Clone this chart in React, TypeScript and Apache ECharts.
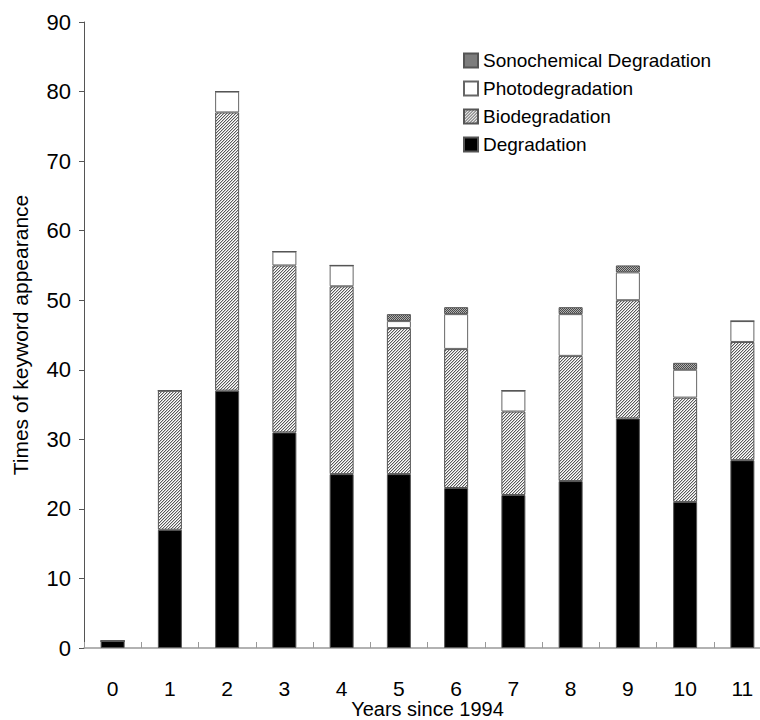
import React, { useEffect, useRef } from "react";
import * as echarts from "echarts";

const categories = ["0", "1", "2", "3", "4", "5", "6", "7", "8", "9", "10", "11"];
const degradation = [1, 17, 37, 31, 25, 25, 23, 22, 24, 33, 21, 27];
const biodegradation = [0, 20, 40, 24, 27, 21, 20, 12, 18, 17, 15, 17];
const photodegradation = [0, 0, 3, 2, 3, 1, 5, 3, 6, 4, 4, 3];
const sonochemical = [0, 0, 0, 0, 0, 1, 1, 0, 1, 1, 1, 0];
const yTicks = { min: 0, max: 90, interval: 10 };

function makeTile(draw: (ctx: CanvasRenderingContext2D) => void, size: number) {
  const c = document.createElement("canvas");
  c.width = size;
  c.height = size;
  const ctx = c.getContext("2d")!;
  ctx.fillStyle = "#ffffff";
  ctx.fillRect(0, 0, size, size);
  draw(ctx);
  return c;
}

export default function App() {
  const ref = useRef<HTMLDivElement>(null);
  useEffect(() => {
    if (!ref.current) return;
    const chart = echarts.init(ref.current, undefined, { renderer: "svg" });

    const bioTile = makeTile((ctx) => {
      for (let x = 0; x < 3; x++)
        for (let y = 0; y < 3; y++) {
          const d = (x + y) % 3;
          if (d === 0) {
            ctx.fillStyle = "#5a5a5a";
            ctx.fillRect(x, y, 1, 1);
          } else if (d === 1) {
            ctx.fillStyle = "#c8c8c8";
            ctx.fillRect(x, y, 1, 1);
          }
        }
    }, 3);
    const sonoTile = makeTile((ctx) => {
      for (let x = 0; x < 2; x++)
        for (let y = 0; y < 2; y++) {
          ctx.fillStyle = (x + y) % 2 === 0 ? "#4a4a4a" : "#b0b0b0";
          ctx.fillRect(x, y, 1, 1);
        }
    }, 2);

    const bioFill: any = { image: bioTile, repeat: "repeat", imageWidth: 3, imageHeight: 3 };
    const sonoFill: any = { image: sonoTile, repeat: "repeat", imageWidth: 2, imageHeight: 2 };

    const font = "Arial, 'Liberation Sans', sans-serif";
    const barW = 24;

    chart.setOption({
      animation: false,
      textStyle: { fontFamily: font },
      grid: {
        left: 84,
        right: -11,
        top: 22,
        bottom: 72,
        containLabel: false,
        outerBoundsMode: "none",
      } as any,
      legend: {
        orient: "vertical",
        left: 458,
        top: 46,
        itemWidth: 14,
        itemHeight: 14,
        itemGap: 9,
        icon: "rect",
        textStyle: { fontSize: 19, color: "#000", fontFamily: font },
        data: ["Sonochemical Degradation", "Photodegradation", "Biodegradation", "Degradation"],
      },
      xAxis: {
        type: "category",
        data: categories,
        name: "Years since 1994",
        nameLocation: "middle",
        nameGap: 51,
        nameMoveOverlap: false,
        nameTextStyle: { fontSize: 20, color: "#000", fontFamily: font },
        axisLine: { show: true, lineStyle: { color: "#999", width: 1.5 } },
        axisTick: { show: true, inside: true, length: 6, lineStyle: { color: "#999" } },
        axisLabel: { fontSize: 21, color: "#000", margin: 30, fontFamily: font },
      } as any,
      yAxis: {
        type: "value",
        min: yTicks.min,
        max: yTicks.max,
        interval: yTicks.interval,
        name: "Times of keyword appearance",
        nameLocation: "middle",
        nameGap: 53,
        nameMoveOverlap: false,
        nameTextStyle: { fontSize: 21, color: "#000", fontFamily: font },
        axisLine: { show: true, lineStyle: { color: "#555", width: 1 } },
        axisTick: { show: true, inside: false, length: 5, lineStyle: { color: "#555" } },
        axisLabel: { fontSize: 22, color: "#000", margin: 13, fontFamily: font },
        splitLine: { show: false },
      } as any,
      series: [
        {
          name: "Degradation",
          type: "bar",
          stack: "s",
          barWidth: barW,
          data: degradation,
          itemStyle: { color: "#000", borderColor: "#555", borderWidth: 1 },
        },
        {
          name: "Biodegradation",
          type: "bar",
          stack: "s",
          barWidth: barW,
          data: biodegradation,
          itemStyle: { color: bioFill, borderColor: "#555", borderWidth: 1 },
        },
        {
          name: "Photodegradation",
          type: "bar",
          stack: "s",
          barWidth: barW,
          data: photodegradation,
          itemStyle: { color: "#fff", borderColor: "#666", borderWidth: 1 },
        },
        {
          name: "Sonochemical Degradation",
          type: "bar",
          stack: "s",
          barWidth: barW,
          data: sonochemical,
          itemStyle: { color: sonoFill, borderColor: "#555", borderWidth: 1 },
        },
      ],
    });
    return () => chart.dispose();
  }, []);
  return (
    <div
      ref={ref}
      style={{ position: "fixed", left: 0, top: 0, width: 760, height: 720, background: "#fff" }}
    />
  );
}
